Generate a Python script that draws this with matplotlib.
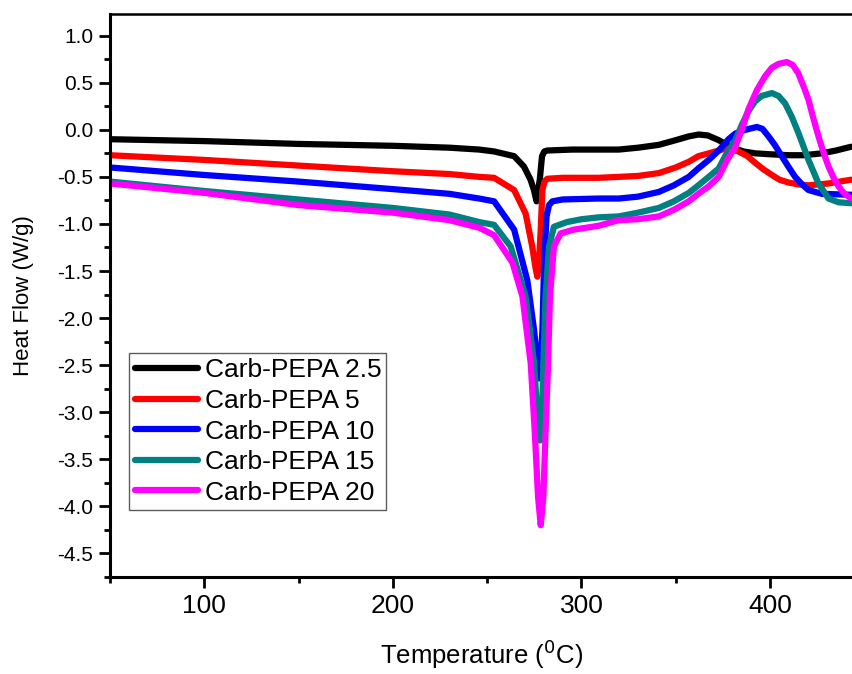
import matplotlib
matplotlib.use("Agg")
import matplotlib.pyplot as plt
from matplotlib.ticker import MultipleLocator, FormatStrFormatter

plt.rcParams['font.family'] = ['Liberation Sans', 'DejaVu Sans']

# Carb-PEPA 2.5
t_25 = [50, 100, 150, 200, 230, 245.8, 253.7, 264.3, 269.5, 273.0, 274.8, 276.2, 277.9, 279.1, 280.3, 281.9,
        295, 309, 319.8, 330, 341, 350, 356.9, 362.2, 367, 372.8, 379.8, 386, 392.1, 400, 409.8, 418, 427.5, 435, 443]
hf_25 = [-0.10, -0.12, -0.15, -0.17, -0.19, -0.21, -0.23, -0.28, -0.39, -0.53, -0.64, -0.76, -0.53, -0.28, -0.23, -0.22,
         -0.21, -0.21, -0.21, -0.19, -0.16, -0.11, -0.07, -0.05, -0.06, -0.11, -0.19, -0.23, -0.25, -0.26, -0.27, -0.27,
         -0.25, -0.22, -0.18]

# Carb-PEPA 5
t_5 = [50, 100, 150, 200, 230, 245.8, 253.7, 264.3, 270.4, 273.9, 275.5, 276.6, 277.5, 278.4, 279.3, 280.4, 281.9,
       290, 309, 319.8, 330, 341, 350, 356.9, 362, 367.5, 372.8, 376.3, 380, 383.3, 388, 392.1, 396.5, 401, 405,
       409.8, 415, 420.4, 431, 443]
hf_5 = [-0.27, -0.32, -0.38, -0.44, -0.47, -0.50, -0.51, -0.64, -0.89, -1.24, -1.45, -1.56, -1.40, -1.06, -0.64, -0.55,
        -0.52, -0.51, -0.51, -0.50, -0.49, -0.46, -0.40, -0.34, -0.28, -0.25, -0.22, -0.20, -0.21, -0.23, -0.28, -0.35,
        -0.42, -0.48, -0.53, -0.56, -0.58, -0.59, -0.57, -0.53]

# Carb-PEPA 10
t_10 = [50, 100, 150, 200, 230, 245.8, 253.7, 264.3, 271.3, 274.9, 276.5, 277.5, 278.4, 279.3, 280.2, 281.5, 282.8,
        284.6, 290, 309, 319.8, 330, 341, 349, 356.9, 362, 367.5, 372.8, 378, 381.6, 386.9, 393, 396, 399.2, 402.5,
        406.2, 410, 413.3, 417, 420.4, 427.5, 443]
hf_10 = [-0.40, -0.48, -0.55, -0.63, -0.68, -0.73, -0.76, -1.06, -1.60, -2.13, -2.45, -2.64, -2.45, -2.13, -1.42, -0.92,
         -0.80, -0.76, -0.74, -0.73, -0.73, -0.71, -0.66, -0.59, -0.50, -0.41, -0.32, -0.22, -0.10, -0.04, 0.00, 0.03,
         0.01, -0.07, -0.16, -0.28, -0.40, -0.50, -0.58, -0.64, -0.68, -0.69]

# Carb-PEPA 15
t_15 = [50, 100, 150, 200, 230, 245.8, 253.7, 262.5, 270.4, 274.9, 277.1, 278.0, 278.9, 279.8, 281.0, 282.8, 285.4,
        292.3, 300, 309, 319.8, 330, 341, 349, 356.9, 362, 367.5, 372.8, 377, 381.6, 385, 388.6, 392, 395.6, 401,
        404.5, 408, 411.5, 415, 420.4, 425.7, 431, 436.3, 443]
hf_15 = [-0.55, -0.65, -0.74, -0.83, -0.90, -0.98, -1.01, -1.24, -1.77, -2.48, -3.19, -3.30, -3.19, -2.48, -1.77,
         -1.24, -1.03, -0.98, -0.95, -0.93, -0.92, -0.88, -0.83, -0.76, -0.67, -0.59, -0.50, -0.41, -0.25, -0.11, 0.05,
         0.20, 0.30, 0.36, 0.39, 0.36, 0.28, 0.14, -0.03, -0.32, -0.57, -0.73, -0.77, -0.78]

# Carb-PEPA 20
t_20 = [50, 100, 150, 200, 230, 245.8, 253.7, 263.4, 268.7, 273.1, 275.2, 277.0, 278.4, 279.8, 281.0, 282.3, 283.3,
        285.4, 289.0, 296, 309, 319.8, 330, 341, 349, 356.9, 362, 367.5, 372.8, 377, 381.6, 385, 388.6, 393, 397.4,
        401, 404.5, 408.9, 412, 415, 418, 420.4, 423, 425.7, 428.5, 431, 433.5, 436.3, 439, 443]
hf_20 = [-0.57, -0.67, -0.80, -0.88, -0.96, -1.04, -1.12, -1.41, -1.77, -2.48, -3.19, -3.90, -4.20, -3.90, -3.19,
         -2.48, -1.77, -1.24, -1.10, -1.06, -1.02, -0.96, -0.95, -0.92, -0.85, -0.76, -0.68, -0.60, -0.50, -0.33, -0.18,
         0.00, 0.22, 0.42, 0.57, 0.66, 0.70, 0.72, 0.69, 0.60, 0.45, 0.32, 0.12, -0.07, -0.25, -0.39, -0.50, -0.60,
         -0.67, -0.73]

labels = ["Carb-PEPA 2.5", "Carb-PEPA 5", "Carb-PEPA 10", "Carb-PEPA 15", "Carb-PEPA 20"]
colors = ["#000000", "#ff0000", "#0000ff", "#008080", "#ff00ff"]

fig = plt.figure(figsize=(8.53, 6.74), dpi=100)
ax = fig.add_axes([110 / 853, 97 / 674, 743 / 853, 563 / 674])

series = [(t_25, hf_25), (t_5, hf_5), (t_10, hf_10), (t_15, hf_15), (t_20, hf_20)]
for (t, hf), lab, c in zip(series, labels, colors):
    ax.plot(t, hf, color=c, lw=4.5, label=lab, solid_joinstyle='round', solid_capstyle='round')

ax.set_xlim(50, 444)
ax.set_ylim(-4.75, 1.23)
ax.xaxis.set_major_locator(MultipleLocator(100))
ax.xaxis.set_minor_locator(MultipleLocator(50))
ax.yaxis.set_major_locator(MultipleLocator(0.5))
ax.yaxis.set_minor_locator(MultipleLocator(0.25))
ax.yaxis.set_major_formatter(FormatStrFormatter('%.1f'))

ax.spines['right'].set_visible(False)
ax.spines['left'].set_linewidth(2.2)
ax.spines['bottom'].set_linewidth(2.2)
ax.spines['top'].set_linewidth(1.8)
ax.tick_params(which='major', direction='out', length=8, width=2, pad=4)
ax.tick_params(which='minor', direction='out', length=4, width=2)
ax.tick_params(axis='x', labelsize=19)
ax.tick_params(axis='y', labelsize=15)

ax.set_xlabel("Temperature ($^{0}$C)", fontsize=18.5, labelpad=14)
ax.set_ylabel("Heat Flow (W/g)", fontsize=16, labelpad=17)

leg = ax.legend(loc='lower left', bbox_to_anchor=(0.026, 0.119), fontsize=19, frameon=True, fancybox=False,
                handlelength=2.4, handletextpad=0.25, labelspacing=0.25, borderpad=0.2, borderaxespad=0)
leg.get_frame().set_edgecolor('#333333')
leg.get_frame().set_linewidth(1.0)

fig.savefig("out.png", dpi=100)
